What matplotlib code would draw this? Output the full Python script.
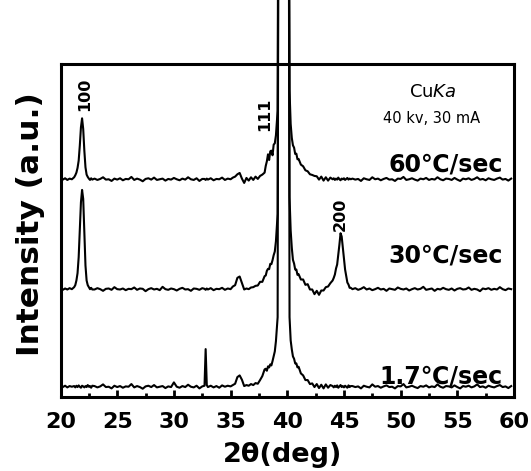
import matplotlib
matplotlib.use("Agg")
import matplotlib.pyplot as plt
from matplotlib.ticker import MultipleLocator

plt.rcParams['font.family'] = ['DejaVu Sans']
plt.rcParams['mathtext.fontset'] = 'dejavusans'

# 2theta sampling (deg), denser around the peaks
two_theta = (
    [20.2, 20.4, 20.6, 20.8, 21.0]
    + [21.2, 21.3, 21.4, 21.5, 21.6, 21.7, 21.8, 21.9, 22.0, 22.1, 22.2, 22.3, 22.4, 22.5, 22.6, 22.7, 22.8]
    + [23.0, 23.25, 23.5, 23.75, 24.0, 24.25, 24.5, 24.75, 25.0, 25.25, 25.5, 25.75, 26.0, 26.25,
       26.5, 26.75, 27.0, 27.25, 27.5, 27.75, 28.0, 28.25, 28.5, 28.75, 29.0, 29.25, 29.5, 29.75,
       30.0, 30.25, 30.5, 30.75, 31.0, 31.25, 31.5, 31.75, 32.0, 32.25, 32.5]
    + [32.7, 32.8, 32.9]
    + [33.0, 33.25, 33.5, 33.75, 34.0, 34.25, 34.5, 34.75, 35.0]
    + [35.2, 35.4, 35.6, 35.8, 36.0, 36.2, 36.4, 36.6, 36.8, 37.0, 37.2, 37.4, 37.6, 37.8]
    + [38.0, 38.1, 38.2, 38.3, 38.4, 38.5, 38.6, 38.7, 38.8, 38.9, 39.0]
    + [39.15, 39.25, 39.5, 39.9, 40.1, 40.2]
    + [40.3, 40.4, 40.5, 40.6, 40.7, 40.8, 40.9, 41.0, 41.2, 41.4, 41.6, 41.8, 42.0]
    + [42.2, 42.4, 42.6, 42.8, 43.0, 43.2, 43.4, 43.6, 43.8]
    + [44.0, 44.1, 44.2, 44.3, 44.4, 44.5, 44.6, 44.7, 44.8, 44.9, 45.0, 45.1, 45.2, 45.3, 45.4, 45.5, 45.6]
    + [45.75, 46.0, 46.25, 46.5, 46.75, 47.0, 47.25, 47.5, 47.75, 48.0, 48.25, 48.5, 48.75, 49.0,
       49.25, 49.5, 49.75, 50.0, 50.25, 50.5, 50.75, 51.0, 51.25, 51.5, 51.75, 52.0, 52.25, 52.5,
       52.75, 53.0, 53.25, 53.5, 53.75, 54.0, 54.25, 54.5, 54.75, 55.0, 55.25, 55.5, 55.75, 56.0,
       56.25, 56.5, 56.75, 57.0, 57.25, 57.5, 57.75, 58.0, 58.25, 58.5, 58.75, 59.0, 59.25, 59.5, 59.75]
)

# intensity (a.u., stacked with offsets) for each cooling rate
i_60 = (
    [65.3, 65.7, 65.2, 65.6, 65.4]
    + [66.0, 66.6, 67.4, 68.8, 71.0, 75.5, 81.0, 83.7, 80.5, 74.0, 69.0, 66.8, 66.1, 65.6, 65.2, 65.7, 65.3]
    + [65.6, 65.2, 65.5, 66.0, 65.3, 65.4, 64.9, 65.6, 65.3, 65.7,
       65.1, 65.5, 65.4, 66.1, 65.2, 65.6, 65.3, 64.8, 65.5, 65.7,
       65.3, 65.9, 65.2, 65.4, 65.6, 65.0, 65.5, 65.3, 65.8, 65.4,
       65.1, 65.6, 65.3, 66.0, 65.4, 65.2, 65.7, 64.9, 65.5]
    + [65.5, 65.2, 65.6]
    + [65.3, 65.7, 65.1, 65.5, 65.4, 65.9, 65.2, 65.6, 65.4]
    + [65.9, 66.2, 66.9, 67.3, 65.6, 64.3, 65.8, 65.0, 66.0, 65.2, 66.2, 65.5, 66.4, 66.8]
    + [67.4, 69.4, 70.8, 72.9, 71.2, 73.8, 74.0, 72.6, 75.8, 76.2, 78.6]
    + [86.0, 220.0, 320.0, 320.0, 220.0, 92.0]
    + [82.0, 77.8, 75.6, 74.9, 73.0, 73.1, 71.4, 71.5, 69.8, 69.3, 68.1, 67.8, 66.9]
    + [66.7, 66.4, 66.3, 65.3, 66.2, 65.0, 66.0, 65.0, 65.9]
    + [65.4, 65.7, 65.2, 65.6, 65.3, 65.9, 65.4, 65.1, 65.6, 65.4, 65.7, 65.2, 65.5, 65.8, 65.3, 65.6, 65.4]
    + [65.6, 65.3, 65.5, 64.9, 65.7, 65.4, 65.2, 66.0, 65.4, 65.6,
       65.1, 65.5, 65.8, 65.3, 65.4, 64.9, 65.6, 65.5, 66.1, 65.2,
       65.4, 65.7, 65.3, 65.0, 65.6, 65.4, 65.8, 65.2, 65.5, 65.3,
       66.0, 65.4, 65.1, 65.6, 65.5, 65.2, 65.8, 65.3, 64.9, 65.6,
       65.4, 65.7, 65.2, 65.5, 66.0, 65.3, 65.5, 65.1, 65.7, 65.4,
       65.2, 65.6, 65.9, 65.3, 65.5, 65.0, 65.6]
)

i_30 = (
    [32.2, 32.6, 32.3, 32.7, 32.4]
    + [33.0, 33.6, 35.0, 37.2, 42.0, 50.0, 58.5, 62.2, 59.5, 49.0, 39.5, 35.0, 33.6, 33.0, 32.4, 32.8, 32.3]
    + [32.3, 32.7, 32.4, 31.9, 32.5, 32.6, 32.2, 33.0, 32.4, 32.3,
       32.6, 32.1, 32.5, 32.4, 32.9, 32.2, 32.6, 32.5, 31.8, 32.4,
       32.7, 32.3, 32.5, 32.1, 33.1, 32.4, 32.2, 32.6, 32.4, 32.0,
       32.5, 32.8, 32.3, 32.4, 31.9, 32.6, 32.5, 32.2, 32.7]
    + [32.5, 32.2, 32.6]
    + [32.3, 32.7, 32.1, 32.5, 32.4, 32.8, 32.2, 32.6, 32.4]
    + [33.2, 33.6, 35.8, 36.2, 34.2, 32.3, 32.6, 32.4, 32.9, 33.0, 33.4, 33.5, 34.6, 34.6]
    + [36.3, 36.5, 37.9, 38.5, 38.4, 40.0, 39.9, 41.1, 42.6, 43.7, 46.8]
    + [55.0, 220.0, 320.0, 320.0, 220.0, 60.0]
    + [50.0, 44.8, 41.2, 40.1, 38.3, 38.3, 36.7, 36.9, 35.3, 35.3, 33.7, 33.9, 32.3]
    + [32.3, 30.9, 31.9, 30.7, 32.0, 32.0, 33.0, 33.2, 34.2]
    + [35.0, 35.8, 36.8, 38.6, 39.8, 42.8, 45.8, 49.2, 48.2, 44.8, 41.7, 38.3, 36.4, 34.4, 33.8, 32.8, 32.8]
    + [32.4, 32.7, 32.2, 32.5, 33.0, 32.3, 32.6, 32.1, 32.4, 32.8,
       32.3, 32.5, 31.9, 32.6, 32.4, 32.2, 32.9, 32.5, 32.3, 32.6,
       32.0, 32.4, 32.7, 32.3, 32.5, 33.1, 32.2, 32.4, 32.6, 31.9,
       32.5, 32.3, 32.8, 32.4, 32.2, 32.6, 32.0, 32.5, 32.7, 32.3,
       32.4, 32.9, 32.2, 32.5, 32.3, 31.8, 32.6, 32.4, 32.7, 32.2,
       32.5, 32.3, 33.0, 32.4, 32.1, 32.6, 32.4]
)

i_17 = (
    [3.0, 3.4, 2.9, 3.3, 3.1]
    + [3.3, 2.9, 3.4, 3.0, 3.5, 3.1, 2.8, 3.4, 3.2, 2.9, 3.3, 3.0, 3.6, 3.1, 3.3, 2.8, 3.4]
    + [3.3, 2.9, 3.2, 3.8, 3.0, 3.1, 2.6, 3.4, 3.0, 3.3,
       2.8, 3.2, 3.1, 3.9, 2.9, 3.3, 3.0, 2.5, 3.2, 3.4,
       3.0, 3.6, 2.9, 3.1, 3.3, 2.7, 3.2, 3.0, 4.4, 3.1,
       2.8, 3.3, 3.0, 3.7, 3.1, 2.9, 3.4, 2.6, 3.2]
    + [3.4, 14.4, 3.6]
    + [3.0, 3.4, 2.9, 3.3, 2.8, 3.5, 3.1, 3.4, 3.2]
    + [3.6, 4.0, 6.0, 6.5, 5.2, 3.3, 3.6, 3.4, 3.9, 3.6, 4.2, 4.0, 5.1, 6.3]
    + [8.3, 8.5, 7.9, 9.2, 8.9, 9.8, 9.5, 10.8, 12.3, 13.7, 16.8]
    + [24.0, 220.0, 320.0, 320.0, 220.0, 24.0]
    + [17.0, 14.3, 12.2, 11.5, 10.1, 10.1, 8.9, 9.1, 7.1, 6.5, 5.1, 5.1, 3.9]
    + [4.1, 3.0, 3.9, 2.7, 3.7, 2.6, 3.8, 2.8, 3.6]
    + [3.3, 2.9, 3.4, 3.0, 3.5, 2.8, 3.2, 3.6, 3.0, 3.3, 2.9, 3.4, 3.1, 2.8, 3.5, 3.0, 3.3]
    + [3.3, 3.0, 3.2, 2.6, 3.4, 3.1, 2.9, 3.8, 3.1, 3.3,
       2.8, 3.2, 3.5, 3.0, 3.1, 2.6, 3.3, 3.2, 3.9, 2.9,
       3.1, 3.4, 3.0, 2.7, 3.3, 3.1, 3.5, 2.9, 3.2, 3.0,
       3.8, 3.1, 2.8, 3.3, 3.2, 2.9, 3.5, 3.0, 2.6, 3.3,
       3.1, 3.4, 2.9, 3.2, 3.8, 3.0, 3.2, 2.8, 3.4, 3.1,
       2.9, 3.3, 3.6, 3.0, 3.2, 2.7, 3.3]
)

assert len(i_60) == len(two_theta), (len(i_60), len(two_theta))
assert len(i_30) == len(two_theta), (len(i_30), len(two_theta))
assert len(i_17) == len(two_theta), (len(i_17), len(two_theta))

rate_labels = ["60℃/sec", "30℃/sec", "1.7℃/sec"]
rate_label_y = [67.8, 40.4, 4.1]
peak_labels = ["100", "111", "200"]
peak_label_x = [22.1, 38.0, 44.65]
peak_label_y = [86.0, 79.8, 49.8]
ticks = [20, 25, 30, 35, 40, 45, 50, 55, 60]

fig = plt.figure(figsize=(5.31, 4.71), dpi=100)
ax = fig.add_axes([0.114, 0.157, 0.854, 0.707])

for y in (i_60, i_30, i_17):
    ax.plot(two_theta, y, color='black', lw=1.5, clip_on=False, zorder=3)

ax.set_xlim(20, 60)
ax.set_ylim(0, 100)
ax.set_xticks(ticks)
ax.xaxis.set_minor_locator(MultipleLocator(2.5))
ax.set_yticks([])
ax.tick_params(axis='x', which='major', direction='in', length=5, width=2,
               labelsize=16, pad=11)
ax.tick_params(axis='x', which='minor', direction='in', length=3, width=2)
for lab in ax.get_xticklabels():
    lab.set_fontweight('bold')
for s in ax.spines.values():
    s.set_linewidth(2.2)

ax.set_xlabel("2θ(deg)", fontsize=19.5, fontweight='bold')
ax.xaxis.set_label_coords(0.49, -0.135)
ax.set_ylabel("Intensity (a.u.)", fontsize=22.5, fontweight='bold')
ax.yaxis.set_label_coords(-0.034, 0.52)

for txt, yy in zip(rate_labels, rate_label_y):
    ax.text(59.0, yy, txt, ha='right', va='baseline', fontsize=17, fontweight='bold')

for txt, xx, yy in zip(peak_labels, peak_label_x, peak_label_y):
    ax.text(xx, yy, txt, rotation=90, ha='center', va='bottom', fontsize=11.5, fontweight='bold')

ax.text(52.8, 90.0, r"Cu$\mathit{Ka}$", ha='center', va='baseline', fontsize=13)
ax.text(52.7, 82.2, "40 kv, 30 mA", ha='center', va='baseline', fontsize=10.5)

fig.savefig("out.png", dpi=100)
